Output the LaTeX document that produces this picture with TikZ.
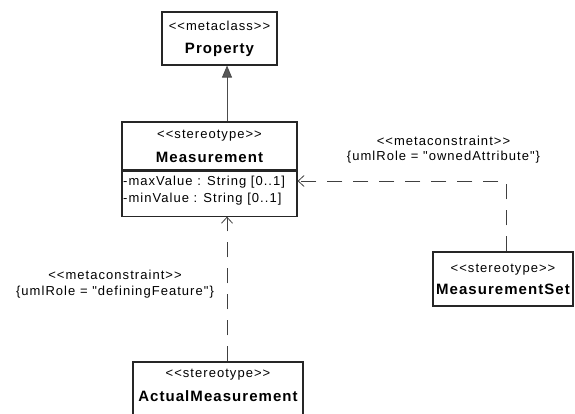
\documentclass[tikz,border=0pt]{standalone}
\usepackage{fontspec}
\setmainfont{Liberation Sans}[Ligatures=TeXOff]
\usepackage{xcolor}
\usetikzlibrary{arrows.meta,positioning,calc}

% text styles of the class boxes
\newcommand{\stt}[1]{{\fontsize{13}{16}\selectfont\addfontfeatures{LetterSpace=8}#1}}
\newcommand{\cname}[1]{{\fontsize{15}{16}\selectfont\bfseries\addfontfeatures{LetterSpace=7}#1}}

\begin{document}
\begin{tikzpicture}[x=1pt,y=-1pt,>=Latex,
  font=\fontsize{13}{16}\selectfont,
  umlbox/.style={draw=black!85,line width=1.1pt,fill=white,inner sep=1pt,align=center},
  genarrow/.style={draw=black!70,line width=0.9pt,-{Triangle[length=12pt,width=10pt,fill=black!65]}},
  constr/.style={draw=black!75,line width=0.9pt,dash pattern=on 15pt off 11pt,
    -{Straight Barb[length=6pt,width=11pt,line width=0.8pt]}},
  lbl/.style={inner sep=0pt,align=center}]
 \useasboundingbox (0,0) rectangle (575,413);
 \clip (0,0) rectangle (575,413);
 % classes
 \node[umlbox,minimum width=115,minimum height=53] (prop) at (219.5,38.5)
   {\stt{<<metaclass>>}\\[7pt]\cname{Property}};
 \node[umlbox,minimum width=175,minimum height=48] (meas) at (209.5,146)
   {\stt{<<stereotype>>}\\[8pt]\cname{Measurement}};
 \node[umlbox,minimum width=175,minimum height=45,anchor=north] (measattr) at (meas.south) {};
 \node[lbl,anchor=north west,align=left] (attrtext) at ($(measattr.north west)+(1.5,5)$)
   {\stt{-maxValue : String [0..1]}\\[1pt]\stt{-minValue : String [0..1]}};
 \node[umlbox,minimum width=170,minimum height=54,text depth=7pt] (actual) at (218,389)
   {\stt{<<stereotype>>}\\[8pt]\cname{ActualMeasurement}};
 \node[umlbox,minimum width=140,minimum height=54] (mset) at (503,279)
   {\stt{<<stereotype>>}\\[6pt]\cname{MeasurementSet}};
 % connectors
 \coordinate (axis) at (227,0);
 \coordinate (bend) at (506,181);
 \draw[genarrow] (meas.north -| axis) -- (prop.south -| axis);
 \draw[constr] (actual.north -| axis) -- (measattr.south -| axis);
 \draw[constr] (mset.north -| bend) |- (measattr.east |- bend);
 % constraint labels
 \node[lbl] (lblset) at (443.5,149.5)
   {\stt{<<metaconstraint>>}\\[-1pt]\stt{\{umlRole = "ownedAttribute"\}}};
 \node[lbl] (lblact) at (115,284)
   {\stt{<<metaconstraint>>}\\\stt{\{umlRole = "definingFeature"\}}};
\end{tikzpicture}
\end{document}
